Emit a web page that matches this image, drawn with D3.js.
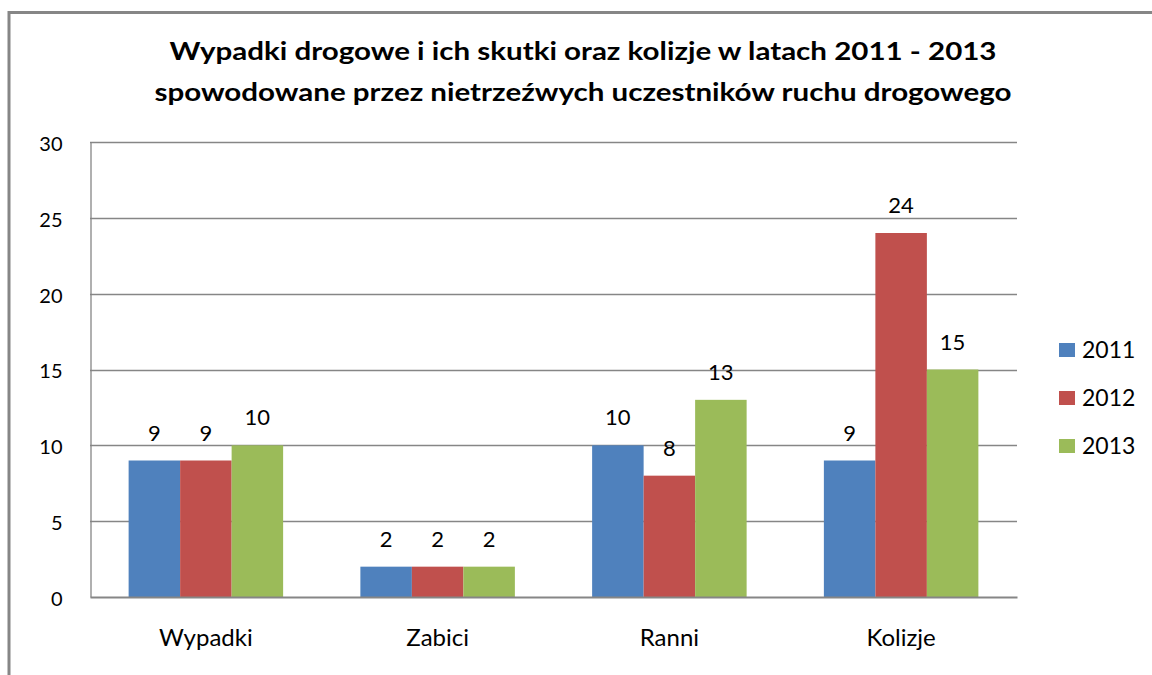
<!DOCTYPE html>
<html>
<head>
<meta charset="utf-8">
<script src="https://cdn.jsdelivr.net/npm/d3@7"></script>
<style>
  body { margin: 0; background: #fff; }
  svg text { font-family: Lato, "Open Sans", sans-serif; fill: #000; }
</style>
</head>
<body>
<div class="canvas"></div>
<script>
// Data
const categories = ["Wypadki", "Zabici", "Ranni", "Kolizje"]
const years = ["2011", "2012", "2013"]
const values2011 = [9, 2, 10, 9]
const values2012 = [9, 2, 8, 24]
const values2013 = [10, 2, 13, 15]
const yTicks = [0, 5, 10, 15, 20, 25, 30]
const titleLines = [
    "Wypadki drogowe i ich skutki oraz kolizje w latach 2011 - 2013",
    "spowodowane przez nietrzeźwych uczestników ruchu drogowego"
]
const colors = ["#4F81BD", "#C0504D", "#9BBB59"]

const series = [values2011, values2012, values2013]

// Sizes
const wWidth = 1152
const wHeight = 675
const plot = {left: 90, right: 1017, top: 142, bottom: 597}

const svg = d3.select('.canvas')
    .append('svg')
    .attr('width', wWidth)
    .attr('height', wHeight)

// outer chart frame (only top and left visible)
svg.append('rect')
    .attr('x', 9)
    .attr('y', 12.5)
    .attr('width', 1200)
    .attr('height', 800)
    .attr('fill', 'none')
    .attr('stroke', '#868686')
    .attr('stroke-width', 3)

// Title
svg.selectAll('.title')
    .data(titleLines)
    .enter()
    .append('text')
    .attr('class', 'title')
    .attr('x', 583)
    .attr('y', (d, i) => 60 + i * 41)
    .attr('text-anchor', 'middle')
    .attr('textLength', (d, i) => i === 0 ? 827 : 857)
    .attr('lengthAdjust', 'spacingAndGlyphs')
    .style('font-size', '25px')
    .style('font-weight', 'bold')
    .text(d => d)

// Scales
const xScale = d3.scaleBand()
    .domain(categories)
    .range([plot.left, plot.right])

const xInner = d3.scaleBand()
    .domain(years)
    .range([0, xScale.bandwidth()])
    .paddingOuter(0.75)
    .paddingInner(0)

const yScale = d3.scaleLinear()
    .domain([0, 30])
    .range([plot.bottom, plot.top])

// Gridlines
svg.append('g')
    .selectAll('line')
    .data(yTicks.filter(d => d > 0))
    .enter()
    .append('line')
    .attr('x1', plot.left)
    .attr('x2', plot.right)
    .attr('y1', d => Math.round(yScale(d)) + 0.5)
    .attr('y2', d => Math.round(yScale(d)) + 0.5)
    .attr('stroke', '#868686')
    .attr('stroke-width', 1.3)

// Y axis
const yAxis = d3.axisLeft(yScale)
    .tickValues(yTicks)
    .tickSize(0)
    .tickPadding(28)
const yAxisGroup = svg.append('g')
    .attr('transform', `translate(${plot.left + 0.5}, 0)`)
    .call(yAxis)
yAxisGroup.select('.domain').attr('stroke', '#868686').attr('stroke-width', 1.3)
yAxisGroup.selectAll('text')
    .style('font-size', '20px')
    .attr('dy', '0.42em')

// Bars
const groups = svg.append('g')
    .selectAll('g')
    .data(categories)
    .enter()
    .append('g')
    .attr('transform', d => `translate(${xScale(d)}, 0)`)

groups.selectAll('rect')
    .data((c, ci) => years.map((y, si) => ({year: y, si: si, v: series[si][ci]})))
    .enter()
    .append('rect')
    .attr('x', d => xInner(d.year))
    .attr('width', xInner.bandwidth())
    .attr('y', d => yScale(d.v))
    .attr('height', d => yScale(0) - yScale(d.v))
    .attr('fill', d => colors[d.si])

// data labels
groups.selectAll('.lbl')
    .data((c, ci) => years.map((y, si) => ({year: y, si: si, v: series[si][ci]})))
    .enter()
    .append('text')
    .attr('class', 'lbl')
    .attr('x', d => xInner(d.year) + xInner.bandwidth() / 2)
    .attr('y', d => yScale(d.v) - 20)
    .attr('text-anchor', 'middle')
    .style('font-size', '22px')
    .text(d => d.v)

// X axis
const xAxis = d3.axisBottom(xScale).tickSize(0).tickPadding(32)
const xAxisGroup = svg.append('g')
    .attr('transform', `translate(0, ${plot.bottom})`)
    .call(xAxis)
xAxisGroup.select('.domain').attr('stroke', '#868686').attr('stroke-width', 2.2)
xAxisGroup.selectAll('text')
    .style('font-size', '24px')
    .attr('dy', '0.72em')

// Legend
const legend = svg.append('g')
    .selectAll('g')
    .data(years)
    .enter()
    .append('g')
    .attr('transform', (d, i) => `translate(1059, ${343 + i * 48})`)

legend.append('rect')
    .attr('width', 16)
    .attr('height', 14)
    .attr('fill', (d, i) => colors[i])

legend.append('text')
    .attr('x', 23)
    .attr('y', 14.5)
    .style('font-size', '23px')
    .text(d => d)
</script>
</body>
</html>
